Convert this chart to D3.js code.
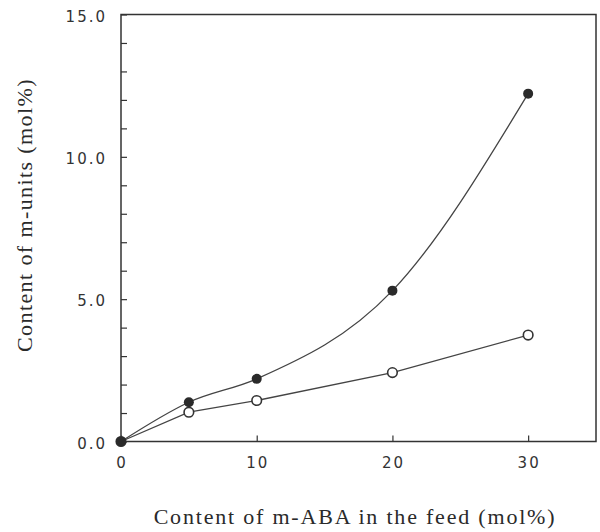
<!DOCTYPE html>
<html>
<head>
<meta charset="utf-8">
<script src="https://cdn.jsdelivr.net/npm/d3@7"></script>
<style>
  body { margin: 0; background: #fff; }
  svg { display: block; }
  .tick-label { font-family: "DejaVu Sans", sans-serif; font-size: 15px; fill: #333; letter-spacing: 2px; }
  .axis-title { font-family: "Liberation Serif", "Times New Roman", serif; font-size: 22px; fill: #2a2a2a; }
</style>
</head>
<body>
<svg id="chart" width="600" height="532"></svg>
<script>
// feed content of m-ABA (mol%)
const feed = [0, 5, 10, 20, 30];
// content of m-units, filled circles
const filledValues = [0, 1.38, 2.2, 5.3, 12.22];
// content of m-units, open circles
const openValues = [0, 1.03, 1.44, 2.42, 3.74];

const xTicks = [0, 10, 20, 30];
const yTicks = [0, 5, 10, 15];
const yMinorTicks = d3.range(0, 16, 1);

const svg = d3.select('#chart');

const plotLeft = 121, plotRight = 596, plotTop = 14.5, plotBottom = 441.5;

const x = d3.scaleLinear().domain([0, 35]).range([plotLeft, plotRight]);
const y = d3.scaleLinear().domain([0, 15]).range([plotBottom, plotTop]);

// frame
svg.append('rect')
  .attr('x', plotLeft).attr('y', plotTop)
  .attr('width', plotRight - plotLeft).attr('height', plotBottom - plotTop)
  .attr('fill', 'none').attr('stroke', '#333').attr('stroke-width', 1.5);

// y axis: ticks point inward, labels on the left
const yAxis = d3.axisRight(y)
  .tickValues(yMinorTicks)
  .tickSize(6)
  .tickFormat('');
svg.append('g')
  .attr('transform', `translate(${plotLeft},0)`)
  .call(yAxis)
  .call(g => g.select('.domain').remove())
  .call(g => g.selectAll('line').attr('stroke', '#333').attr('stroke-width', 1.2));

svg.append('g').selectAll('text')
  .data(yTicks)
  .enter().append('text')
    .attr('class', 'tick-label')
    .attr('x', plotLeft - 14)
    .attr('y', d => y(d) + 2)
    .attr('dy', '0.35em')
    .attr('text-anchor', 'end')
    .text(d => d3.format('.1f')(d));

// x axis: ticks point up into the plot
const xAxis = d3.axisTop(x)
  .tickValues(xTicks)
  .tickSize(6)
  .tickFormat('');
svg.append('g')
  .attr('transform', `translate(0,${plotBottom})`)
  .call(xAxis)
  .call(g => g.select('.domain').remove())
  .call(g => g.selectAll('line').attr('stroke', '#333').attr('stroke-width', 1.2));

svg.append('g').selectAll('text')
  .data(xTicks)
  .enter().append('text')
    .attr('class', 'tick-label')
    .attr('x', d => x(d) + 1)
    .attr('y', plotBottom + 21)
    .attr('dy', '0.35em')
    .attr('text-anchor', 'middle')
    .text(d => d);

// axis titles
svg.append('text')
  .attr('class', 'axis-title')
  .attr('x', 355).attr('y', 524)
  .attr('text-anchor', 'middle')
  .style('letter-spacing', '1.8px')
  .text('Content of m-ABA in the feed (mol%)');

svg.append('text')
  .attr('class', 'axis-title')
  .attr('transform', 'translate(32,215) rotate(-90)')
  .attr('text-anchor', 'middle')
  .style('letter-spacing', '1.4px')
  .text('Content of m-units (mol%)');

// series
const filled = feed.map((d, i) => ({x: d, y: filledValues[i]}));
const open = feed.map((d, i) => ({x: d, y: openValues[i]}));

const smoothLine = d3.line()
  .x(d => x(d.x)).y(d => y(d.y))
  .curve(d3.curveMonotoneX);
const straightLine = d3.line()
  .x(d => x(d.x)).y(d => y(d.y));

svg.append('path')
  .datum(filled)
  .attr('d', smoothLine)
  .attr('fill', 'none').attr('stroke', '#444').attr('stroke-width', 1.3);

svg.append('path')
  .datum(open)
  .attr('d', straightLine)
  .attr('fill', 'none').attr('stroke', '#444').attr('stroke-width', 1.3);

svg.append('g').selectAll('circle')
  .data(open)
  .enter().append('circle')
    .attr('cx', d => x(d.x)).attr('cy', d => y(d.y))
    .attr('r', 4.8)
    .attr('fill', '#fff').attr('stroke', '#333').attr('stroke-width', 1.6);

svg.append('g').selectAll('circle')
  .data(filled)
  .enter().append('circle')
    .attr('cx', d => x(d.x)).attr('cy', d => y(d.y))
    .attr('r', 5)
    .attr('fill', '#2a2a2a');
</script>
</body>
</html>
